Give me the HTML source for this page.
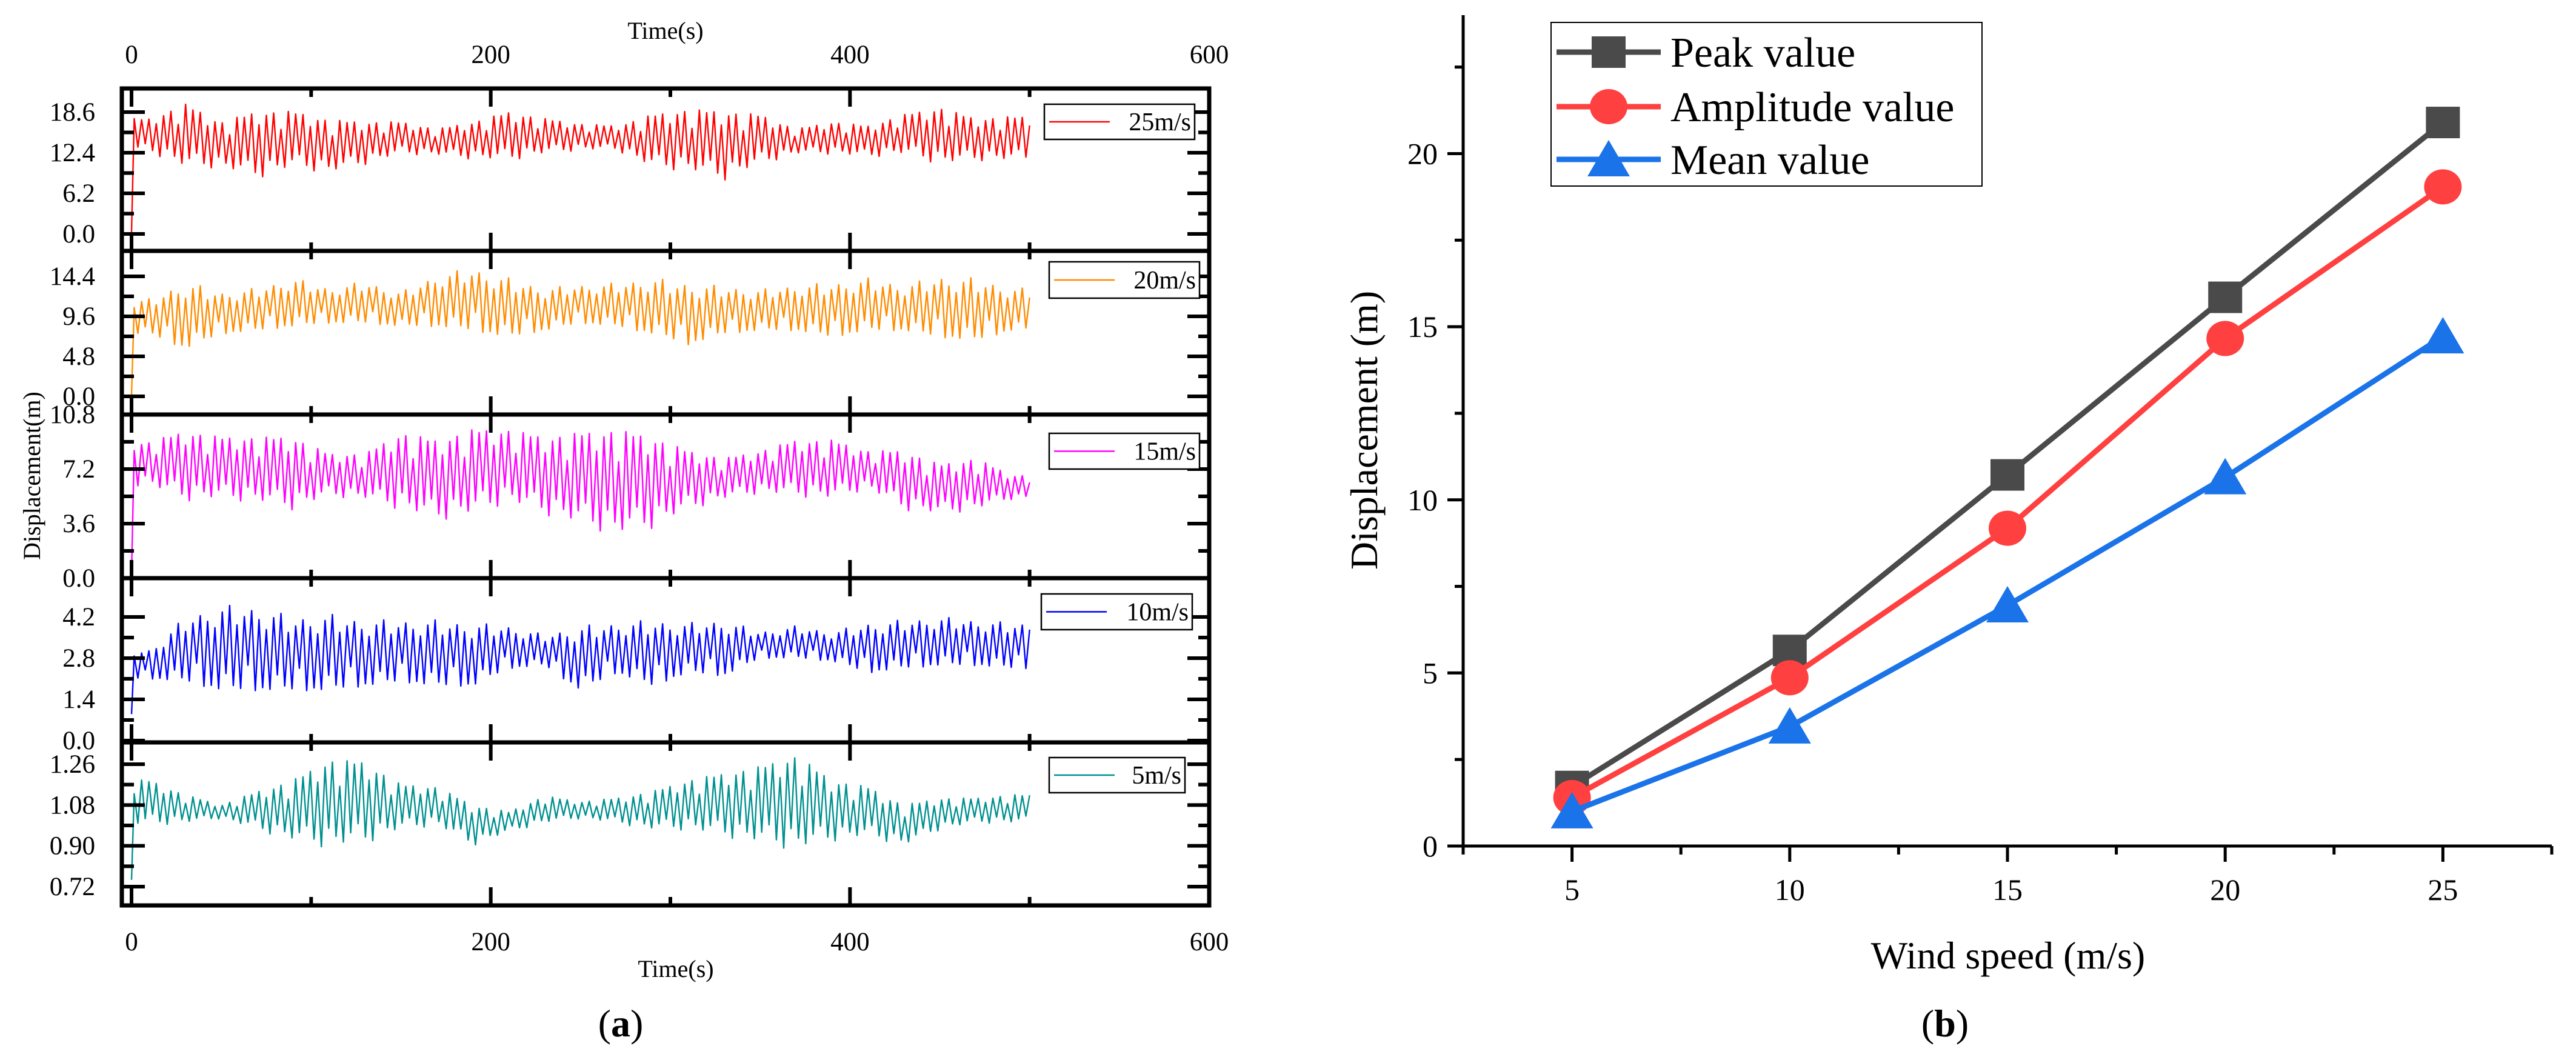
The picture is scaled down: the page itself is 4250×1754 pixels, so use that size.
<!DOCTYPE html>
<html><head><meta charset="utf-8"><style>
html,body{margin:0;padding:0;background:#fff;}
svg{display:block;}
text{font-family:"Liberation Serif",serif;fill:#000;}
</style></head><body>
<svg id="root" width="4250" height="1754" viewBox="0 0 4250 1754" xmlns="http://www.w3.org/2000/svg">
<g id="pa"></g>
<g id="pb"></g>
<text x="1024" y="1710" font-size="64" text-anchor="middle">(<tspan font-weight="bold">a</tspan>)</text>
<text x="3209" y="1710" font-size="64" text-anchor="middle">(<tspan font-weight="bold">b</tspan>)</text>
</svg>
<script>
// ---------- Panel (a) data: envelope (upper/lower) per 20 s bin, 0..500 s ----------
const binTimes = [10,30,50,70,90,110,130,150,170,190,210,230,250,270,290,310,330,350,370,390,410,430,450,470,490];
const up25 = [17.6,19.8,17.1,18.7,18.7,17.4,17.1,17.1,16.0,17.1,18.6,17.6,16.8,16.5,18.2,19.0,18.7,18.2,16.0,17.1,16.5,18.2,19.3,17.6,17.9];
const lo25 = [12.5,10.1,10.1,8.5,10.1,9.3,10.6,12.2,12.0,11.4,11.2,12.2,12.8,12.8,10.1,9.6,8.2,10.6,12.2,12.2,11.7,12.2,10.6,11.2,11.2];
const up20 = [11.7,13.8,12.5,13.0,14.2,13.0,13.8,12.5,14.6,15.4,14.2,13.0,13.4,13.6,14.2,13.6,13.2,12.8,13.4,13.6,14.2,13.4,14.4,14.2,13.0];
const lo20 = [7.5,5.7,7.5,7.9,8.4,8.8,8.8,8.4,8.4,7.9,7.1,7.9,8.8,8.4,7.5,6.2,7.5,7.9,7.9,7.1,7.9,7.9,7.1,6.7,7.9];
const up15 = [9.0,9.7,9.3,9.3,9.3,8.2,8.2,9.6,9.1,9.8,9.8,9.3,9.6,9.8,9.3,8.4,7.9,8.4,9.1,9.1,8.4,8.4,7.5,7.9,6.8];
const lo15 = [6.1,5.1,5.2,5.0,4.5,5.4,5.2,4.5,3.8,4.2,5.0,4.2,3.5,2.8,3.3,4.5,5.2,5.6,5.4,5.2,5.9,4.5,4.2,4.5,5.2];
const up10 = [3.1,4.2,4.6,4.55,4.2,4.3,4.1,4.1,4.1,4.0,3.9,3.6,3.9,4.0,4.1,4.0,4.1,3.7,3.9,3.7,4.0,4.1,4.2,4.1,4.0];
const lo10 = [2.1,2.0,1.7,1.7,1.7,1.7,1.85,2.0,1.85,1.85,2.45,2.55,1.7,2.3,1.85,2.3,2.2,2.8,2.8,2.7,2.3,2.45,2.55,2.55,2.45];
const up5 = [1.19,1.125,1.08,1.14,1.19,1.28,1.27,1.17,1.16,1.08,1.05,1.12,1.095,1.11,1.14,1.19,1.22,1.25,1.30,1.19,1.16,1.08,1.11,1.11,1.125];
const lo5 = [0.99,1.0,1.02,0.97,0.92,0.89,0.91,0.97,0.99,0.90,0.96,1.0,1.02,1.0,0.97,0.97,0.94,0.91,0.88,0.92,0.94,0.90,0.97,1.0,1.0];
const startVals = [0.3, 0.2, 0.3, 0.9, 0.75];
const seriesLabels = ["25m/s","20m/s","15m/s","10m/s","5m/s"];
const yTicks1 = ["0.0","6.2","12.4","18.6"];
const yTicks2 = ["0.0","4.8","9.6","14.4"];
const yTicks3 = ["0.0","3.6","7.2","10.8"];
const yTicks4 = ["0.0","1.4","2.8","4.2"];
const yTicks5 = ["0.72","0.90","1.08","1.26"];
const xTicksA = [0,200,400,600];
// ---------- Panel (b) data ----------
const windSpeeds = [5,10,15,20,25];
const peakVals = [1.72,5.65,10.72,15.85,20.9];
const ampVals = [1.4,4.86,9.18,14.66,19.04];
const meanVals = [1.0,3.45,6.95,10.65,14.72];
const xTicksB = [5,10,15,20,25];
const yTicksB = [0,5,10,15,20];

const NS="http://www.w3.org/2000/svg";
function mk(parent,tag,attrs,txt){const e=document.createElementNS(NS,tag);for(const k in attrs)e.setAttribute(k,attrs[k]);if(txt!==undefined)e.textContent=txt;parent.appendChild(e);return e;}

// ----- Panel a -----
const pa=document.getElementById('pa');
const AX0=203, AX1=1995;
const tx=t=>217+t*(1778/600);
const panels=[
 {top:146,bot:414,vmin:0,vmax:18.6,y0:386,y1:185,ticks:yTicks1,up:up25,lo:lo25,color:"#ff0000",leg:[1723,172,248,58]},
 {top:414,bot:684,vmin:0,vmax:14.4,y0:654,y1:456,ticks:yTicks2,up:up20,lo:lo20,color:"#ff8c00",leg:[1731,432,248,60]},
 {top:684,bot:954,vmin:0,vmax:10.8,y0:954,y1:684,ticks:yTicks3,up:up15,lo:lo15,color:"#ff00ff",leg:[1731,715,248,59]},
 {top:954,bot:1225,vmin:0,vmax:4.2,y0:1222,y1:1018,ticks:yTicks4,up:up10,lo:lo10,color:"#0000ff",leg:[1718,980,249,59]},
 {top:1225,bot:1494,vmin:0.72,vmax:1.26,y0:1463,y1:1261,ticks:yTicks5,up:up5,lo:lo5,color:"#009090",leg:[1731,1250,224,58]}
];
const ampPattern=[1,0.7,0.93,0.5,0.97,0.84,0.6,1,0.88,0.55,0.95,0.75,0.4,0.9];
function envAt(arr,t){
  if(t<=binTimes[0])return arr[0];
  for(let i=1;i<binTimes.length;i++){if(t<=binTimes[i]){const f=(t-binTimes[i-1])/(binTimes[i]-binTimes[i-1]);return arr[i-1]+f*(arr[i]-arr[i-1]);}}
  return arr[arr.length-1];
}
panels.forEach((p,pi)=>{
  const g=mk(pa,'g',{});
  
  
  const vy=v=>p.y0+(v-p.vmin)*(p.y1-p.y0)/(p.vmax-p.vmin);
  const halfCycles=244, pts=[];
  pts.push(tx(0)+','+vy(startVals[pi]).toFixed(1));
  for(let k=0;k<=halfCycles;k++){
    const t=1.5+k*(498.5/halfCycles);
    const u=envAt(p.up,t), l=envAt(p.lo,t), m=(u+l)/2, h=(u-l)/2*ampPattern[(k+pi*3)%ampPattern.length];
    const v=(k%2===0)?m+h:m-h;
    pts.push(tx(t).toFixed(1)+','+vy(v).toFixed(1));
  }
  const line=mk(g,'polyline',{points:pts.join(' '),fill:'none',stroke:p.color,'stroke-width':2.4,'stroke-linejoin':'round'});
  
  
  p.ticks.forEach((lab,i)=>{
    const v=parseFloat(lab), y=vy(v);
    mk(g,'line',{x1:AX0,x2:AX0+36,y1:y,y2:y,stroke:'#000','stroke-width':6});
    mk(g,'line',{x1:AX1-36,x2:AX1,y1:y,y2:y,stroke:'#000','stroke-width':6});
    const tl=mk(g,'text',{x:157,y:y+14,'font-size':43,'text-anchor':'end'},lab);
    
    
    if(i<p.ticks.length-1){
      const vm=(v+parseFloat(p.ticks[i+1]))/2, ym=vy(vm);
      mk(g,'line',{x1:AX0,x2:AX0+18,y1:ym,y2:ym,stroke:'#000','stroke-width':6});
      mk(g,'line',{x1:AX1-18,x2:AX1,y1:ym,y2:ym,stroke:'#000','stroke-width':6});
    }
  });
  [0,100,200,300,400,500].forEach(t=>{
    const L=(t%200===0)?30:14, x=tx(t);
    mk(g,'line',{x1:x,x2:x,y1:p.top,y2:p.top+L,stroke:'#000','stroke-width':6});
    mk(g,'line',{x1:x,x2:x,y1:p.bot,y2:p.bot-L,stroke:'#000','stroke-width':6});
  });
  const fr=mk(g,'rect',{x:AX0-2,y:p.top,width:AX1-AX0+2,height:p.bot-p.top,fill:'none',stroke:'#000','stroke-width':7});
  
  
  const [lx,ly,lw,lh]=p.leg;
  const lg=mk(g,'g',{});
  
  
  mk(lg,'rect',{x:lx,y:ly,width:lw,height:lh,fill:'#fff',stroke:'#000','stroke-width':2.5});
  mk(lg,'line',{x1:lx+8,x2:lx+108,y1:ly+lh/2,y2:ly+lh/2,stroke:p.color,'stroke-width':2.5});
  mk(lg,'text',{x:lx+lw-6,y:ly+lh/2+14,'font-size':42,'text-anchor':'end'},seriesLabels[pi]);
});
xTicksA.forEach(t=>{
  const a=mk(pa,'text',{x:tx(t),y:104,'font-size':43,'text-anchor':'middle'},String(t));
  
  
  const b=mk(pa,'text',{x:tx(t),y:1568,'font-size':43,'text-anchor':'middle'},String(t));
  
  
});
let tt=mk(pa,'text',{x:1098,y:64,'font-size':40,'text-anchor':'middle'},'Time(s)');


tt=mk(pa,'text',{x:1115,y:1612,'font-size':40,'text-anchor':'middle'},'Time(s)');


tt=mk(pa,'text',{x:0,y:0,'font-size':40,'text-anchor':'middle',transform:'translate(66,785) rotate(-90)'},'Displacement(m)');



// ----- Panel b -----
const pb=document.getElementById('pb');
const BX0=2414,BX1=4210,BY0=1396,BYT=25;
const bx=v=>BX0+(v-2.5)*(BX1-BX0)/25;
const by=v=>BY0-v*(BY0-BYT)/24;
mk(pb,'line',{x1:BX0,x2:BX0,y1:BYT,y2:BY0,stroke:'#000','stroke-width':5});
mk(pb,'line',{x1:BX0-2,x2:BX1,y1:BY0,y2:BY0,stroke:'#000','stroke-width':5});
yTicksB.forEach(v=>{
  mk(pb,'line',{x1:BX0-26,x2:BX0,y1:by(v),y2:by(v),stroke:'#000','stroke-width':5});
  const l=mk(pb,'text',{x:BX0-42,y:by(v)+17,'font-size':50,'text-anchor':'end'},String(v));
  
  
});
for(let v=2.5;v<24;v+=5){mk(pb,'line',{x1:BX0-14,x2:BX0,y1:by(v),y2:by(v),stroke:'#000','stroke-width':5});}
xTicksB.forEach(v=>{
  mk(pb,'line',{x1:bx(v),x2:bx(v),y1:BY0,y2:BY0+26,stroke:'#000','stroke-width':5});
  const l=mk(pb,'text',{x:bx(v),y:1485,'font-size':50,'text-anchor':'middle'},String(v));
  
  
});
for(let v=2.5;v<=27.5;v+=5){mk(pb,'line',{x1:bx(v),x2:bx(v),y1:BY0,y2:BY0+14,stroke:'#000','stroke-width':5});}
tt=mk(pb,'text',{x:3313,y:1598,'font-size':64,'text-anchor':'middle'},'Wind speed (m/s)');


tt=mk(pb,'text',{x:0,y:0,'font-size':64,'text-anchor':'middle',transform:'translate(2272,710) rotate(-90)'},'Displacement (m)');



function marker(g,type,x,y,color){
  if(type==='sq')return mk(g,'rect',{x:x-28,y:y-26,width:56,height:52,fill:color});
  if(type==='ci')return mk(g,'ellipse',{cx:x,cy:y,rx:31,ry:29,fill:color});
  return mk(g,'polygon',{points:`${x},${y-32} ${x+35},${y+28} ${x-35},${y+28}`,fill:color});
}
const seriesB=[
 {vals:peakVals,color:'#4a4a4a',m:'sq',name:'peak-value'},
 {vals:ampVals,color:'#ff4040',m:'ci',name:'amplitude-value'},
 {vals:meanVals,color:'#1a73e8',m:'tr',name:'mean-value'}
];
seriesB.forEach(s=>{
  const g=mk(pb,'g',{});
  
  
  mk(g,'polyline',{points:windSpeeds.map((w,i)=>bx(w)+','+by(s.vals[i])).join(' '),fill:'none',stroke:s.color,'stroke-width':9});
  windSpeeds.forEach((w,i)=>{
    const mm=marker(g,s.m,bx(w),by(s.vals[i]),s.color);
    
    
  });
});
const lgB=mk(pb,'g',{});


mk(lgB,'rect',{x:2559,y:37,width:711,height:270,fill:'#fff',stroke:'#000','stroke-width':2});
const legNames=['Peak value','Amplitude value','Mean value'];
[86,176,263].forEach((y,i)=>{
  const e=mk(lgB,'g',{});
  
  
  mk(e,'line',{x1:2568,x2:2740,y1:y,y2:y,stroke:seriesB[i].color,'stroke-width':9});
  marker(e,seriesB[i].m,2654,y,seriesB[i].color);
  mk(e,'text',{x:2756,y:y+24,'font-size':70},legNames[i]);
});
</script>
</body></html>
